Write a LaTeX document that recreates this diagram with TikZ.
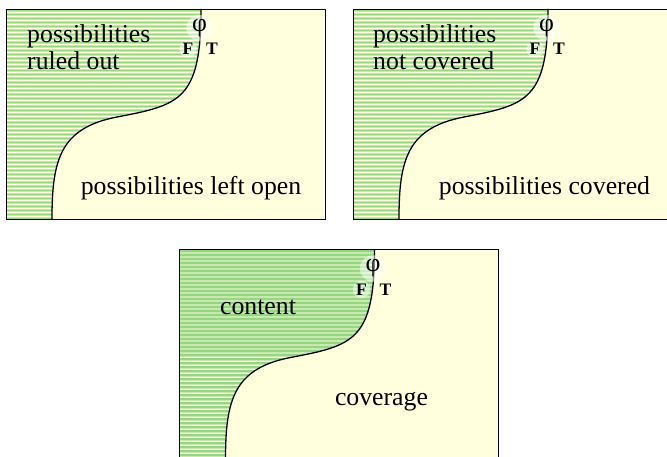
\documentclass[tikz,border=0pt]{standalone}
\usepackage{fontspec}
\setmainfont{Liberation Serif}
\usetikzlibrary{positioning}

\definecolor{fieldyellow}{RGB}{255,255,221}
\definecolor{stripegreen}{RGB}{150,214,130}
\definecolor{stripepale}{RGB}{200,234,175}

% one field of possibilities: frame, striped F side, boundary curve, phi with F/T
\newcommand{\logicfield}[2]{%
  \begin{scope}[shift={#1}]
    \fill[fieldyellow] (0,0) rectangle (319,210);
    \begin{scope}
      \clip (0,0) -- (195,0) .. controls (195,91) and (174,96) .. (111,108)
        .. controls (54,119) and (46,151) .. (46,210) -- (0,210) -- cycle;
      \foreach \s in {0,4,...,208} {
        \fill[stripepale] (0,\s) rectangle (200,\s+3.2);
        \fill[stripegreen] (0,\s+0.7) rectangle (200,\s+2.5);
      }
    \end{scope}
    \draw[boundary] (195,0) .. controls (195,91) and (174,96) .. (111,108)
      .. controls (54,119) and (46,151) .. (46,210);
    \draw[frame] (0,0) rectangle (319,210);
    \node[halo, phi] (#2phi) at (193.5,19) {φ};
    \node[halo, truth] (#2f) at (182,40) {F};
    \node[truth, right=0.25cm of #2f] (#2t) {T};
  \end{scope}}

\begin{document}
\begin{tikzpicture}[
  x=0.03cm, y=-0.03cm,
  frame/.style={draw=black, line width=0.8pt},
  boundary/.style={draw=black, line width=1.1pt},
  halo/.style={circle, fill=white, fill opacity=0.5, text opacity=1, inner sep=1pt},
  phi/.style={font=\fontsize{22}{22}\selectfont},
  truth/.style={font=\fontsize{15}{15}\selectfont\bfseries, inner sep=0.5pt},
  label/.style={font=\fontsize{22}{23}\selectfont, inner sep=0pt}
]
\useasboundingbox (0,0) rectangle (667,457);
\clip (0,0) rectangle (667,457);

\logicfield{(6,9)}{a}
\logicfield{(353,9)}{b}
\logicfield{(179.5,249.5)}{c}

\node[label, align=left, anchor=west] (ruled) at (27,47) {possibilities\\ruled out};
\node[label] (open) at (191,188) {possibilities left open};

\node[label, align=left, anchor=west] (notcov) at (373,47) {possibilities\\not covered};
\node[label] (cov) at (544.5,188) {possibilities covered};

\node[label] (content) at (258,307) {content};
\node[label] (coverage) at (381.5,402) {coverage};
\end{tikzpicture}
\end{document}
